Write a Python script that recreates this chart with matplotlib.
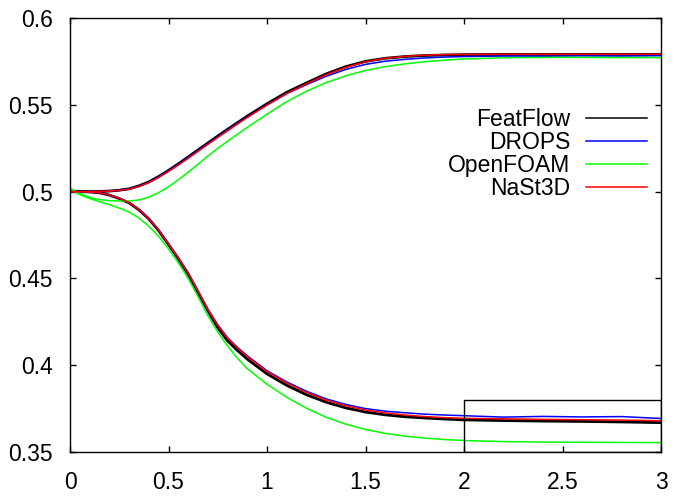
import numpy as np
import matplotlib
matplotlib.use('Agg')
import matplotlib.pyplot as plt
from matplotlib.patches import Rectangle
from matplotlib.ticker import FormatStrFormatter

plt.rcParams['font.family'] = ['Liberation Sans', 'DejaVu Sans']

# time axis shared by all series (finer where the curves bend)
t = [0.0, 0.05, 0.1, 0.15, 0.2, 0.25, 0.3, 0.35, 0.4, 0.45, 0.5,
     0.55, 0.6, 0.65, 0.7, 0.75, 0.8, 0.85, 0.9,
     1.0, 1.1, 1.2, 1.3, 1.4, 1.5, 1.6, 1.7, 1.8, 1.9, 2.0,
     2.2, 2.4, 2.6, 2.8, 3.0]

# upper branch
featflow_up = [0.5000, 0.5000, 0.5000, 0.5001, 0.5003, 0.5008, 0.5016, 0.5033, 0.5056, 0.5087, 0.5122,
               0.5160, 0.5200, 0.5240, 0.5280, 0.5320, 0.5359, 0.5397, 0.5435,
               0.5506, 0.5572, 0.5626, 0.5678, 0.5720, 0.5750, 0.5768, 0.5778, 0.5784, 0.5787, 0.5789,
               0.5790, 0.5790, 0.5790, 0.5790, 0.5790]
drops_up = [0.5000, 0.5000, 0.5000, 0.5001, 0.5003, 0.5008, 0.5015, 0.5031, 0.5054, 0.5085, 0.5119,
            0.5157, 0.5196, 0.5236, 0.5276, 0.5316, 0.5355, 0.5393, 0.5430,
            0.5500, 0.5564, 0.5616, 0.5664, 0.5704, 0.5733, 0.5751, 0.5762, 0.5770, 0.5775, 0.5778,
            0.5781, 0.5780, 0.5782, 0.5781, 0.5783]
openfoam_up = [0.5020, 0.4990, 0.4966, 0.4954, 0.4948, 0.4946, 0.4946, 0.4952, 0.4968, 0.4994, 0.5028,
               0.5068, 0.5112, 0.5158, 0.5205, 0.5249, 0.5290, 0.5331, 0.5370,
               0.5446, 0.5518, 0.5578, 0.5628, 0.5667, 0.5698, 0.5720, 0.5736, 0.5748, 0.5757, 0.5764,
               0.5771, 0.5773, 0.5773, 0.5772, 0.5772]
nast3d_up = [0.5000, 0.5000, 0.5000, 0.5001, 0.5003, 0.5007, 0.5014, 0.5030, 0.5052, 0.5082, 0.5116,
             0.5153, 0.5192, 0.5232, 0.5272, 0.5312, 0.5351, 0.5389, 0.5427,
             0.5498, 0.5565, 0.5620, 0.5673, 0.5716, 0.5748, 0.5768, 0.5779, 0.5786, 0.5789, 0.5790,
             0.5791, 0.5791, 0.5791, 0.5791, 0.5791]

# lower branch
featflow_lo = [0.5000, 0.5000, 0.4998, 0.4993, 0.4980, 0.4960, 0.4935, 0.4895, 0.4843, 0.4775, 0.4695,
               0.4612, 0.4522, 0.4418, 0.4313, 0.4215, 0.4140, 0.4085, 0.4035,
               0.3950, 0.3884, 0.3830, 0.3787, 0.3754, 0.3730, 0.3714, 0.3703, 0.3696, 0.3690, 0.3685,
               0.3681, 0.3678, 0.3676, 0.3673, 0.3669]
drops_lo = [0.5000, 0.5000, 0.4998, 0.4993, 0.4981, 0.4962, 0.4937, 0.4898, 0.4846, 0.4779, 0.4700,
            0.4620, 0.4533, 0.4429, 0.4323, 0.4233, 0.4158, 0.4103, 0.4054,
            0.3968, 0.3904, 0.3850, 0.3806, 0.3774, 0.3750, 0.3735, 0.3726, 0.3718, 0.3713, 0.3709,
            0.3701, 0.3705, 0.3702, 0.3704, 0.3693]
openfoam_lo = [0.5015, 0.4982, 0.4960, 0.4942, 0.4925, 0.4905, 0.4882, 0.4848, 0.4800, 0.4742, 0.4670,
               0.4590, 0.4500, 0.4395, 0.4285, 0.4192, 0.4110, 0.4040, 0.3980,
               0.3890, 0.3815, 0.3752, 0.3700, 0.3660, 0.3630, 0.3607, 0.3591, 0.3580, 0.3572, 0.3566,
               0.3560, 0.3557, 0.3556, 0.3555, 0.3554]
nast3d_lo = [0.5000, 0.5000, 0.4998, 0.4993, 0.4981, 0.4961, 0.4936, 0.4897, 0.4845, 0.4778, 0.4698,
             0.4617, 0.4530, 0.4426, 0.4320, 0.4230, 0.4155, 0.4100, 0.4050,
             0.3963, 0.3898, 0.3843, 0.3799, 0.3766, 0.3742, 0.3725, 0.3713, 0.3704, 0.3698, 0.3694,
             0.3691, 0.3688, 0.3686, 0.3684, 0.3680]

labels = ['FeatFlow', 'DROPS', 'OpenFOAM', 'NaSt3D']
colors = ['#000000', '#0000ff', '#00ff00', '#ff0000']
widths = [2.0, 1.1, 1.1, 1.1]
upper = [featflow_up, drops_up, openfoam_up, nast3d_up]
lower = [featflow_lo, drops_lo, openfoam_lo, nast3d_lo]

# zoom window marked on the plot
box_x = [2.0, 3.0]
box_y = [0.35, 0.38]

xticks = [0, 0.5, 1, 1.5, 2, 2.5, 3]
yticks = [0.35, 0.4, 0.45, 0.5, 0.55, 0.6]

fig = plt.figure(figsize=(6.77, 4.99), dpi=100)
ax = fig.add_axes([0.1034, 0.0942, 0.873, 0.8697])

for lab, c, lw, yu, yl in zip(labels, colors, widths, upper, lower):
    ax.plot(t, yu, color=c, lw=lw, label=lab)
    ax.plot(t, yl, color=c, lw=lw)

ax.add_patch(Rectangle((box_x[0], box_y[0]), box_x[1] - box_x[0], box_y[1] - box_y[0],
                       fill=False, edgecolor='black', lw=1.0, zorder=5))

ax.set_xlim(0, 3)
ax.set_ylim(0.35, 0.6)
ax.set_xticks(xticks)
ax.set_yticks(yticks)
ax.xaxis.set_major_formatter(FormatStrFormatter('%g'))
ax.yaxis.set_major_formatter(FormatStrFormatter('%g'))
ax.tick_params(direction='in', length=4.5, width=1.0, top=True, right=True,
               labelsize=16.5, color='black')
ax.tick_params(axis='x', pad=14)
ax.tick_params(axis='y', pad=12.5)
for s in ax.spines.values():
    s.set_linewidth(1.0)

leg = ax.legend(loc='upper right', bbox_to_anchor=(0.9763, 0.792), frameon=False,
                markerfirst=False, fontsize=16.5, handlelength=2.67,
                handletextpad=0.68, labelspacing=0.0, borderpad=0, borderaxespad=0)
for h in leg.get_lines():
    h.set_linewidth(1.1)

fig.savefig('out.png', dpi=100)
